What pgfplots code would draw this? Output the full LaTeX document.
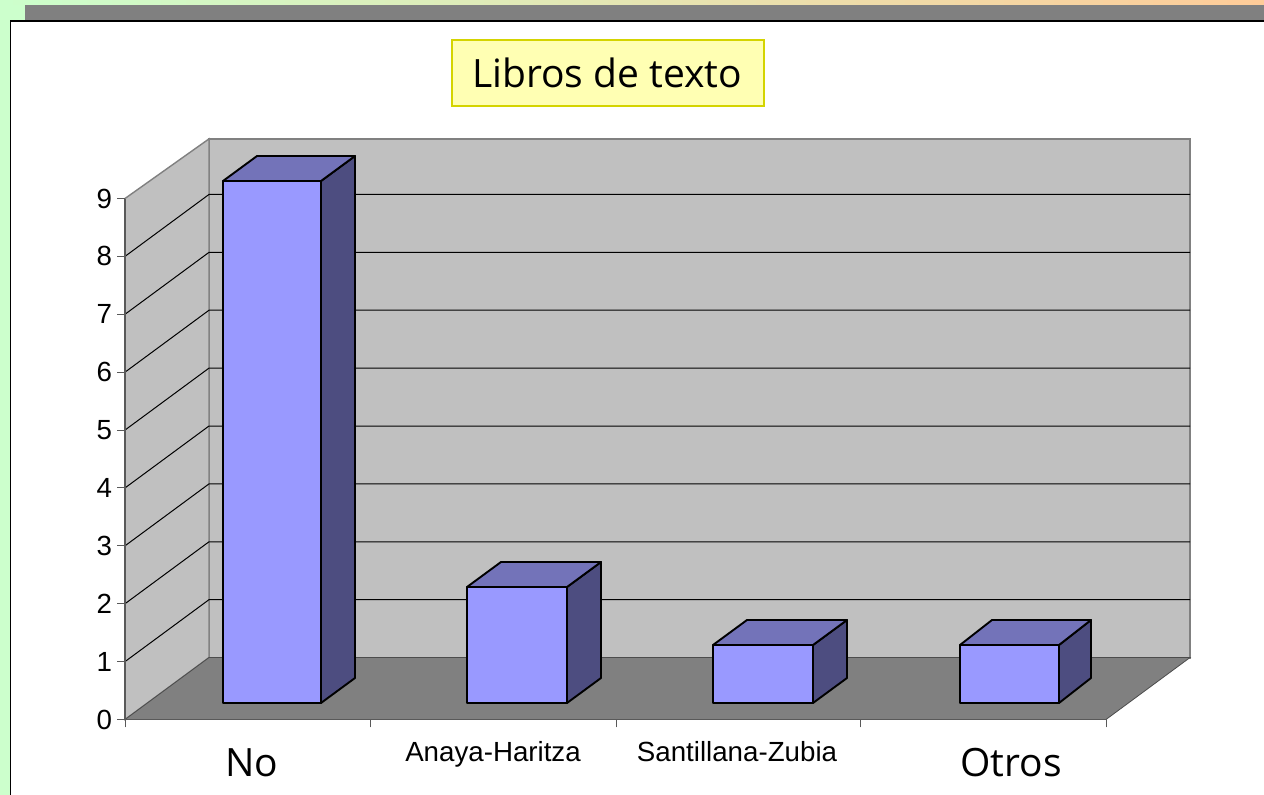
\documentclass[border=0pt]{standalone}
\usepackage{fontspec}
\usepackage{pgfplots}
\pgfplotsset{compat=1.18}
\setmainfont{Liberation Sans}
\newfontfamily\comic{Open Sans}
\definecolor{wall}{RGB}{192,192,192}
\definecolor{floorc}{RGB}{128,128,128}
\definecolor{barfront}{RGB}{153,153,255}
\definecolor{barside}{RGB}{77,77,128}
\definecolor{bartop}{RGB}{115,115,185}
\definecolor{pagegreen}{RGB}{204,255,204}
\definecolor{pageorange}{RGB}{255,204,153}
\definecolor{titlefill}{RGB}{255,255,179}
\definecolor{titleedge}{RGB}{212,212,0}
\begin{document}
\begin{tikzpicture}
\begin{scope}[x=0.5pt,y=-0.5pt]
\path[use as bounding box] (0,0) rectangle (1264,795);
\clip (0,0) rectangle (1264,795);
\fill[pagegreen] (0,0) rectangle (1264,795);
\shade[left color=pagegreen,right color=pageorange] (0,0) rectangle (1264,5);
\fill[floorc] (25,5) rectangle (1264,21);
\fill[white,draw=black,line width=0.9pt] (10.5,21) rectangle (1300,830);
\end{scope}
\begin{axis}[
  at={(62.5pt,-359.75pt)},anchor=south west,
  scale only axis,width=490.5pt,height=260.5pt,
  xmin=125,xmax=1106,ymin=0,ymax=9,
  clip=false,axis on top,
  axis x line*=bottom,axis y line*=left,
  axis line style={draw=black!65,line width=0.6pt},
  xtick={125,370,616,860,1106},xticklabels={},
  ytick={0,...,9},
  extra x ticks={252,493,737,1011},
  extra x tick labels={{\comic\fontsize{19.5pt}{21pt}\selectfont No},{\raisebox{7.4pt}{Anaya-Haritza}},{\raisebox{7.4pt}{Santillana-Zubia}},{\comic\fontsize{19.5pt}{21pt}\selectfont Otros}},
  extra x tick style={major tick length=0pt,xticklabel style={anchor=base,yshift=-28.3pt}},
  major tick length=4pt,
  tick align=outside,tick style={draw=black!65,line width=0.5pt},
  /pgf/number format/assume math mode=true,
  tick label style={font=\fontsize{13.85pt}{15pt}\selectfont,text=black},
  yticklabel style={xshift=1pt},
]
\addplot[fill=wall,draw=floorc,line width=1pt] coordinates {(209,1.07)(1190,1.07)(1190,10.03)(209,10.03)} -- cycle;
\addplot[fill=wall,draw=floorc,line width=0.7pt] coordinates {(125,0)(209,1.07)(209,10.03)(125,9)} -- cycle;
\addplot[fill=floorc,draw=black!70,line width=0.4pt] coordinates {(125,0)(1106,0)(1190,1.07)(209,1.07)} -- cycle;
\addplot[black,line width=0.5pt] coordinates {(125,1)(209,2.07)(1190,2.07)};
\addplot[black,line width=0.5pt] coordinates {(125,2)(209,3.07)(1190,3.07)};
\addplot[black,line width=0.5pt] coordinates {(125,3)(209,4.07)(1190,4.07)};
\addplot[black,line width=0.5pt] coordinates {(125,4)(209,5.07)(1190,5.07)};
\addplot[black,line width=0.5pt] coordinates {(125,5)(209,6.07)(1190,6.07)};
\addplot[black,line width=0.5pt] coordinates {(125,6)(209,7.07)(1190,7.07)};
\addplot[black,line width=0.5pt] coordinates {(125,7)(209,8.07)(1190,8.07)};
\addplot[black,line width=0.5pt] coordinates {(125,8)(209,9.07)(1190,9.07)};
\end{axis}
\begin{axis}[
  at={(62.5pt,-351.5pt)},anchor=south west,
  scale only axis,width=490.5pt,height=261pt,
  xmin=125,xmax=1106,ymin=0,ymax=9,
  clip=false,hide axis,
]
\tikzset{barline/.style={draw=black,line width=0.95pt,line join=round}}
% No = 9
\addplot[barline,fill=barside] coordinates {(321,0)(355,0.431)(355,9.431)(321,9)} -- cycle;
\addplot[barline,fill=bartop] coordinates {(223,9)(321,9)(355,9.431)(257,9.431)} -- cycle;
\addplot[ybar,bar width=49pt,barline,fill=barfront] coordinates {(272,9)};
% Anaya-Haritza = 2
\addplot[barline,fill=barside] coordinates {(567,0)(601,0.431)(601,2.431)(567,2)} -- cycle;
\addplot[barline,fill=bartop] coordinates {(467,2)(567,2)(601,2.431)(501,2.431)} -- cycle;
\addplot[ybar,bar width=50pt,barline,fill=barfront] coordinates {(517,2)};
% Santillana-Zubia = 1
\addplot[barline,fill=barside] coordinates {(813,0)(847,0.431)(847,1.431)(813,1)} -- cycle;
\addplot[barline,fill=bartop] coordinates {(713,1)(813,1)(847,1.431)(747,1.431)} -- cycle;
\addplot[ybar,bar width=50pt,barline,fill=barfront] coordinates {(763,1)};
% Otros = 1
\addplot[barline,fill=barside] coordinates {(1059,0)(1091,0.431)(1091,1.431)(1059,1)} -- cycle;
\addplot[barline,fill=bartop] coordinates {(960,1)(1059,1)(1091,1.431)(992,1.431)} -- cycle;
\addplot[ybar,bar width=49.5pt,barline,fill=barfront] coordinates {(1009.5,1)};
\end{axis}
\begin{scope}[x=0.5pt,y=-0.5pt]
\draw[titleedge,fill=titlefill,line width=1pt] (451.5,40.5) rectangle (763.5,106.5);
\node[font=\comic\fontsize{19.5pt}{21pt}\selectfont,text=black] at (607,73) {Libros de texto};
\end{scope}
\end{tikzpicture}
\end{document}
